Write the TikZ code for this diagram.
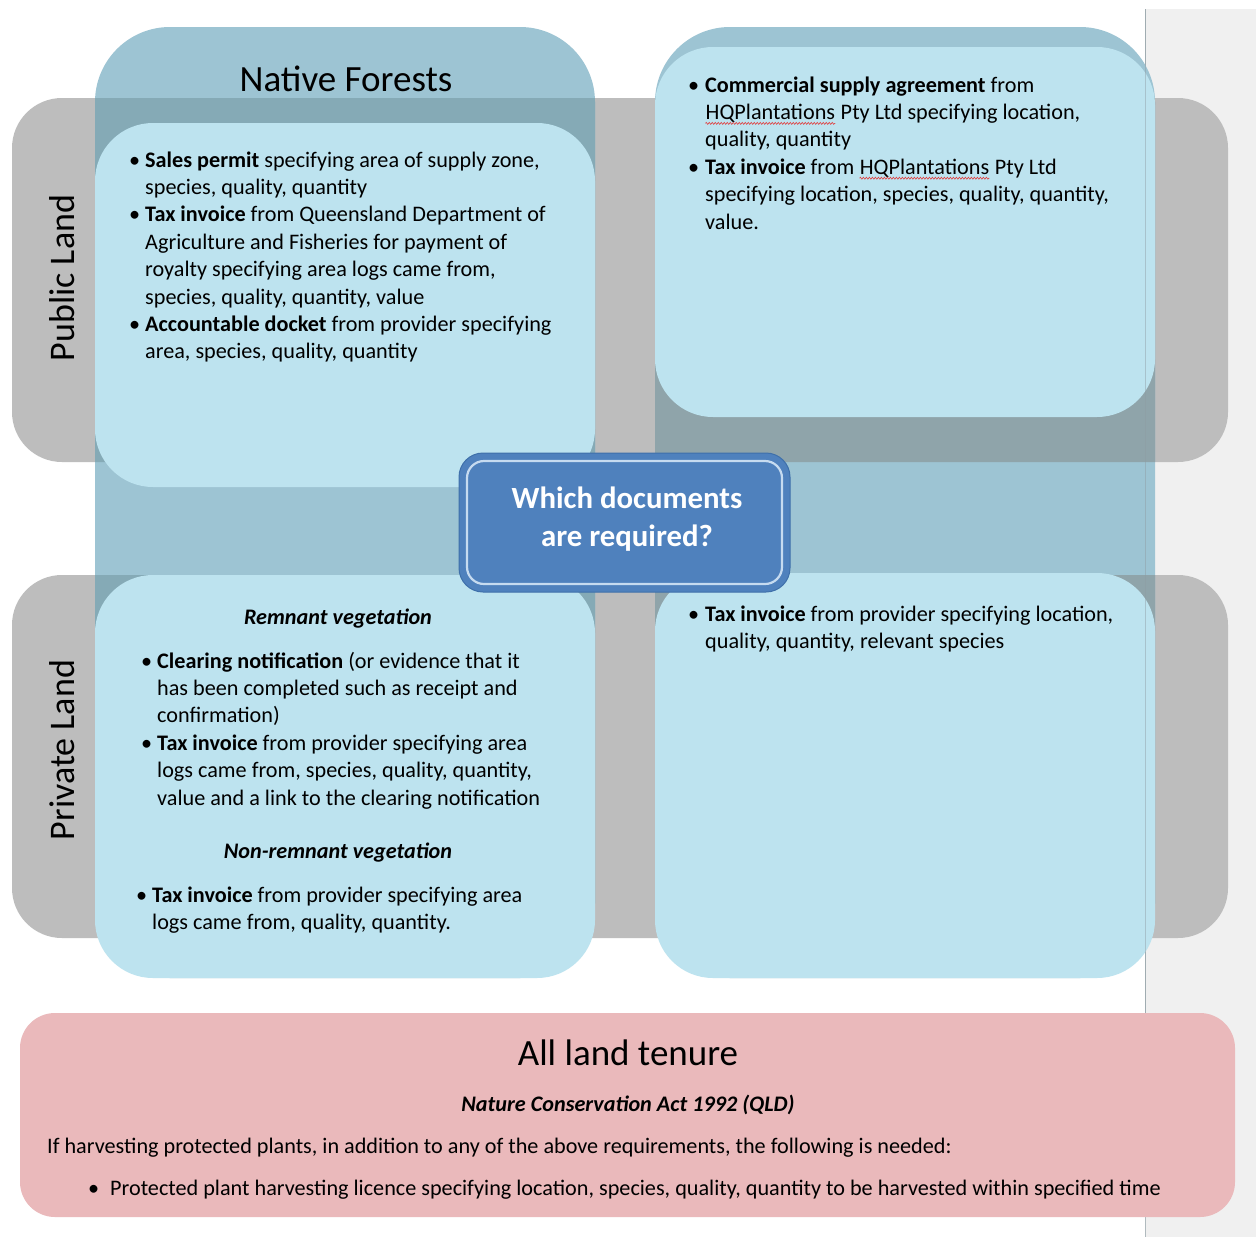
\documentclass[tikz,border=0pt]{standalone}
\usepackage{fontspec}
\setmainfont{Carlito}
\usetikzlibrary{decorations.pathmorphing}
\definecolor{greyrow}{HTML}{BDBDBD}
\definecolor{colteal}{HTML}{9DC4D3}
\definecolor{ovlL}{HTML}{85AAB6}
\definecolor{ovlR}{HTML}{8FA4AA}
\definecolor{lightbox}{HTML}{BDE3EF}
\definecolor{cblue}{HTML}{4F81BD}
\definecolor{cedge}{HTML}{3F70AA}
\definecolor{cline}{HTML}{C6DBF0}
\definecolor{pinkbox}{HTML}{EAB9BB}
\definecolor{strip}{HTML}{F0F0F0}
\definecolor{pageline}{HTML}{8E9CA2}
\definecolor{squigred}{HTML}{E04040}
\newcommand{\bodyf}{\fontsize{22.2}{27.4}\selectfont}
\newcommand{\itm}[1][16pt]{\makebox[#1][l]{\textbullet}}
\newcommand{\squig}[1]{\tikz[baseline=(sq.base)]{\node[inner sep=0pt] (sq) {#1};
  \draw[squigred, line width=0.6pt, decorate, decoration={zigzag, amplitude=1pt, segment length=3pt}]
    ([yshift=-4pt]sq.base west) -- ([yshift=-4pt]sq.base east);}}
\tikzset{
  txt/.style={anchor=base west, inner sep=0pt, font=\bodyf, text=black},
  ctr/.style={anchor=base, inner sep=0pt, font=\bodyf, text=black},
  rowshape/.style={fill=greyrow, rounded corners=50pt},
  colshape/.style={fill=colteal, rounded corners=75pt},
  lbox/.style={fill=lightbox, rounded corners=58pt},
}
\begin{document}
\begin{tikzpicture}[x=1pt,y=-1pt]
\useasboundingbox (0,0) rectangle (1256,1237);
\fill[white] (0,0) rectangle (1256,1237);
% page strip
\fill[strip] (1146,9) rectangle (1256,1237);
\draw[pageline!70, line width=1pt] (1145.5,9) -- (1145.5,1237);
% rows
\fill[rowshape] (12,98) rectangle (1228,462);
\fill[rowshape] (12,575) rectangle (1228,938);
% columns
\fill[colshape] (95,27) rectangle (595,978);
\fill[colshape] (655,27) rectangle (1155,978);
% overlaps
\begin{scope}
  \clip[rounded corners=50pt] (12,98) rectangle (1228,462);
  \fill[ovlL, rounded corners=75pt] (95,27) rectangle (595,978);
  \fill[ovlR, rounded corners=75pt] (655,27) rectangle (1155,978);
\end{scope}
\begin{scope}
  \clip[rounded corners=50pt] (12,575) rectangle (1228,938);
  \fill[ovlL, rounded corners=75pt] (95,27) rectangle (595,978);
  \fill[ovlR, rounded corners=75pt] (655,27) rectangle (1155,978);
\end{scope}
% light boxes
\fill[lbox] (95,123) rectangle (595,487);
\fill[lbox] (655,47) rectangle (1155,417);
\fill[lbox] (95,575) rectangle (595,978);
\fill[lbox] (655,573) rectangle (1155,978);
% page line over
\draw[pageline, opacity=0.45, line width=1pt] (1145.5,9) -- (1145.5,1013);
% center box
\fill[cblue, draw=cedge, line width=1pt, rounded corners=24pt] (459,453) rectangle (790,592);
\draw[cline, line width=2.2pt, rounded corners=17pt] (467,461) rectangle (782,584);
\node[anchor=center, align=center, inner sep=0pt, text=white,
      font=\fontsize{30.8}{38}\selectfont\bfseries] (q) at (627,519) {Which documents\\are required?};
% headers
\node[anchor=base, inner sep=0pt, font=\fontsize{37}{42}\selectfont] (nf) at (346,91) {Native Forests};
\node[rotate=90, anchor=center, inner sep=0pt, font=\fontsize{36}{40}\selectfont] (pub) at (62,278) {Public Land};
\node[rotate=90, anchor=center, inner sep=0pt, font=\fontsize{36}{40}\selectfont] (priv) at (62,750) {Private Land};
% TL text
\node[txt] (tl) at (129,167) {\begin{tabular}[t]{@{}l@{}l@{}}
\itm & \textbf{Sales permit} specifying area of supply zone,\\
 & species, quality, quantity\\
\itm & \textbf{Tax invoice} from Queensland Department of\\
 & Agriculture and Fisheries for payment of\\
 & royalty specifying area logs came from,\\
 & species, quality, quantity, value\\
\itm & \textbf{Accountable docket} from provider specifying\\
 & area, species, quality, quantity
\end{tabular}};
% TR text
\node[txt] (tr) at (688,92) {\begin{tabular}[t]{@{}l@{}l@{}}
\itm[17pt] & \textbf{Commercial supply agreement} from\\
 & \squig{HQPlantations} Pty Ltd specifying location,\\
 & quality, quantity\\
\itm[17pt] & \textbf{Tax invoice} from \squig{HQPlantations} Pty Ltd\\
 & specifying location, species, quality, quantity,\\
 & value.
\end{tabular}};
% BL text
\node[ctr] (rem) at (338,624) {\textbf{\textit{Remnant vegetation}}};
\node[txt] (bl1) at (141,668) {\begin{tabular}[t]{@{}l@{}l@{}}
\itm & \textbf{Clearing notification} (or evidence that it\\
 & has been completed such as receipt and\\
 & confirmation)\\
\itm & \textbf{Tax invoice} from provider specifying area\\
 & logs came from, species, quality, quantity,\\
 & value and a link to the clearing notification
\end{tabular}};
\node[ctr] (nonrem) at (338,858) {\textbf{\textit{Non-remnant vegetation}}};
\node[txt] (bl2) at (136,902) {\begin{tabular}[t]{@{}l@{}l@{}}
\itm & \textbf{Tax invoice} from provider specifying area\\
 & logs came from, quality, quantity.
\end{tabular}};
% BR text
\node[txt] (br) at (688,621) {\begin{tabular}[t]{@{}l@{}l@{}}
\itm[17pt] & \textbf{Tax invoice} from provider specifying location,\\
 & quality, quantity, relevant species
\end{tabular}};
% bottom
\fill[pinkbox, rounded corners=35pt] (20,1013) rectangle (1235,1217);
\node[anchor=base, inner sep=0pt, font=\fontsize{37}{42}\selectfont] (all) at (628,1065) {All land tenure};
\node[ctr] (act) at (628,1111) {\textbf{\textit{Nature Conservation Act 1992 (QLD)}}};
\node[txt] (ifh) at (47,1153) {If harvesting protected plants, in addition to any of the above requirements, the following is needed:};
\node[txt] (lic) at (88,1195) {\itm[22pt]Protected plant harvesting licence specifying location, species, quality, quantity to be harvested within specified time};
\end{tikzpicture}
\end{document}
